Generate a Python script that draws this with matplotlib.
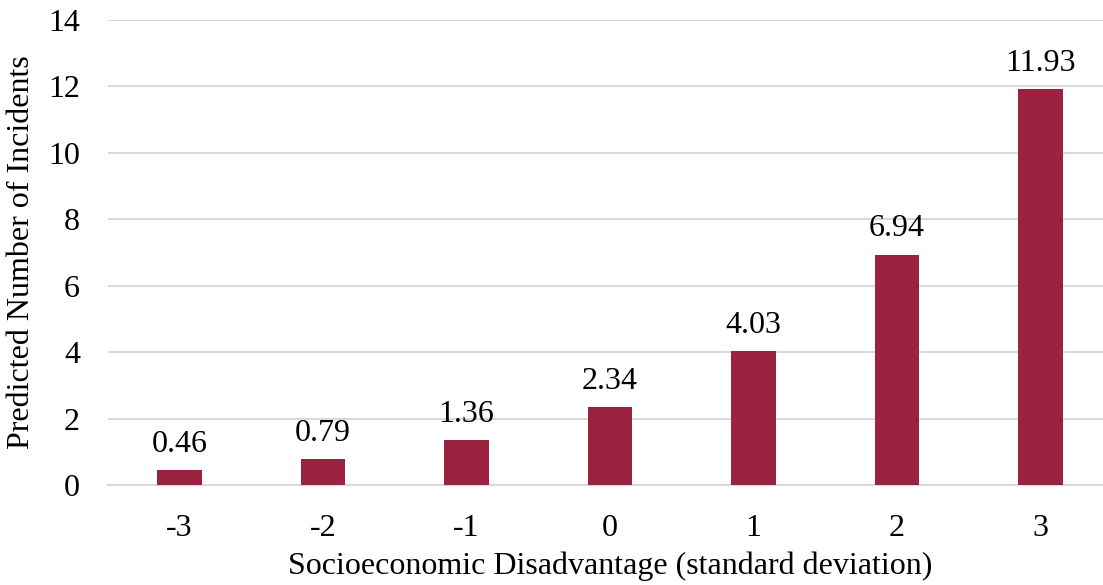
import matplotlib.pyplot as plt

# chart values
categories = ['-3', '-2', '-1', '0', '1', '2', '3']
incidents = [0.46, 0.79, 1.36, 2.34, 4.03, 6.94, 11.93]
yticks = [0, 2, 4, 6, 8, 10, 12, 14]

plt.rcParams['font.family'] = ['Liberation Serif', 'DejaVu Serif']

fig = plt.figure(figsize=(11.03, 5.85), dpi=100)
ax = fig.add_axes([0.0977, 0.1709, 0.9105, 0.7949])

xs = range(len(categories))
bars = ax.bar(xs, incidents, width=0.31, color='#9B2340', zorder=3)

for x, v in zip(xs, incidents):
    ax.annotate(f'{v:.2f}', (x, v), xytext=(0, 8), textcoords='offset points',
                ha='center', va='bottom', fontsize=23)

ax.set_xlim(-0.5, len(categories) - 0.5)
ax.set_ylim(0, 14)
ax.set_yticks(yticks)
ax.set_xticks(list(xs))
ax.set_xticklabels(categories)
ax.tick_params(axis='both', length=0, labelsize=23)
ax.tick_params(axis='x', pad=21)
ax.tick_params(axis='y', pad=20)
ax.grid(axis='y', color='#d9d9d9', linewidth=1.5, zorder=0)
for s in ['top', 'right', 'left']:
    ax.spines[s].set_visible(False)
ax.spines['bottom'].set_color('#d9d9d9')
ax.spines['bottom'].set_linewidth(1.5)

ax.set_xlabel('Socioeconomic Disadvantage (standard deviation)', fontsize=23, labelpad=6)
ax.set_ylabel('Predicted Number of Incidents', fontsize=23, labelpad=9)

fig.savefig('out.png', dpi=100)
